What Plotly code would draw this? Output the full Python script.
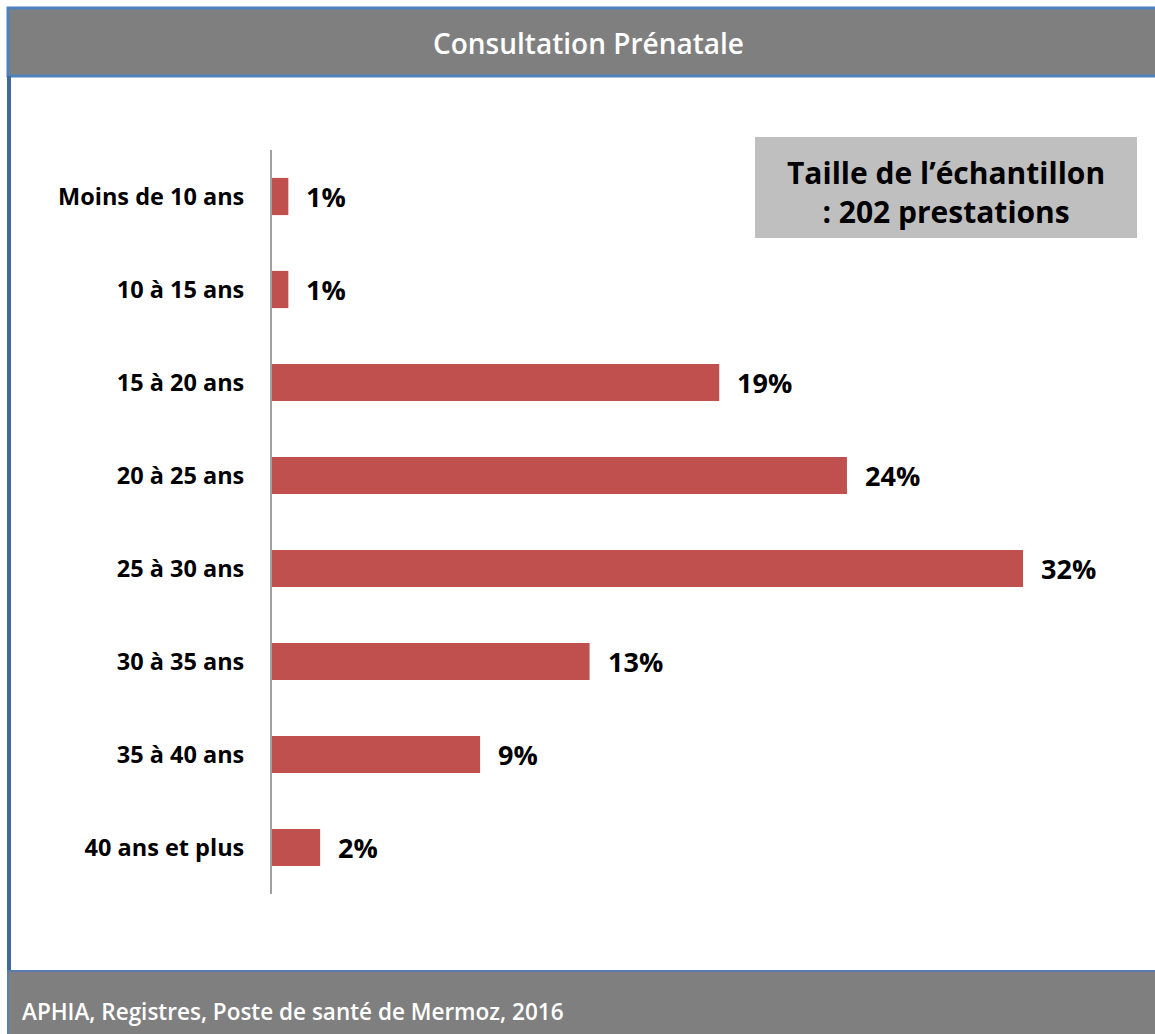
import plotly.graph_objects as go

# ---- data ----
categories = ["Moins de 10 ans", "10 à 15 ans", "15 à 20 ans", "20 à 25 ans",
              "25 à 30 ans", "30 à 35 ans", "35 à 40 ans", "40 ans et plus"]
values = [0.69, 0.69, 18.87, 24.26, 31.69, 13.4, 8.78, 2.03]
title_text = "Consultation Prénatale"
box_text = "Taille de l’échantillon<br>: 202 prestations"
footer_text = "APHIA, Registres, Poste de santé de Mermoz, 2016"

# ---- geometry (pixels) ----
FIG_W, FIG_H = 1155, 1034
PL, PR, PT, PB = 272, 1135, 150, 894
PW, PH = PR - PL, PB - PT
XMAX = PW / 23.7


def px(x):
    return (x - PL) / PW


def py(y):
    return (PB - y) / PH


BAR_COLOR = "#C0504D"
HEAD_GRAY = "#7F7F7F"
BLUE = "#4F81BD"
FONT = "Open Sans"

fig = go.Figure(go.Bar(
    x=values, y=categories, orientation="h",
    marker=dict(color=BAR_COLOR, line=dict(width=0)),
    hoverinfo="skip",
))

annotations = []
for c, v in zip(categories, values):
    annotations.append(dict(
        x=v, y=c, xref="x", yref="y", text=f"{round(v):d}%",
        showarrow=False, xanchor="left", yanchor="middle", xshift=16,
        font=dict(family=FONT, size=27, color="black", weight="bold"),
    ))

# title
annotations.append(dict(
    x=px(588), y=py(43), xref="paper", yref="paper", text=title_text,
    showarrow=False, xanchor="center", yanchor="middle",
    font=dict(family=FONT, size=28, color="white", weight=600),
))
# footer
annotations.append(dict(
    x=px(20), y=py(1011), xref="paper", yref="paper", text=footer_text,
    showarrow=False, xanchor="left", yanchor="middle",
    font=dict(family=FONT, size=22.5, color="white", weight=600),
))
# sample-size box text
annotations.append(dict(
    x=px(946), y=py(192), xref="paper", yref="paper", text=box_text,
    showarrow=False, xanchor="center", yanchor="middle",
    font=dict(family=FONT, size=30, color="black", weight="bold"),
))

shapes = [
    # header band
    dict(type="rect", xref="paper", yref="paper",
         x0=px(8), x1=px(1170), y0=py(8), y1=py(76),
         fillcolor=HEAD_GRAY, line=dict(color=BLUE, width=3), layer="below"),
    # left frame border
    dict(type="line", xref="paper", yref="paper",
         x0=px(9), x1=px(9), y0=py(76), y1=py(1040),
         line=dict(color="#41689A", width=4), layer="below"),
    # footer band
    dict(type="rect", xref="paper", yref="paper",
         x0=px(8), x1=px(1170), y0=py(971), y1=py(1045),
         fillcolor=HEAD_GRAY, line=dict(color="#5B7DB1", width=2), layer="below"),
    # sample-size box
    dict(type="rect", xref="paper", yref="paper",
         x0=px(755), x1=px(1137), y0=py(137), y1=py(238),
         fillcolor="#BFBFBF", line=dict(width=0), layer="below"),
]

fig.update_layout(
    width=FIG_W, height=FIG_H,
    margin=dict(l=PL, r=FIG_W - PR, t=PT, b=FIG_H - PB, pad=0),
    paper_bgcolor="white", plot_bgcolor="white",
    showlegend=False, bargap=0.6,
    annotations=annotations, shapes=shapes,
    xaxis=dict(range=[0, XMAX], showgrid=False, zeroline=False,
               showticklabels=False, showline=False, ticks=""),
    yaxis=dict(autorange="reversed", showgrid=False, zeroline=False,
               showline=True, linecolor="#A0A0A0", linewidth=2,
               ticks="", ticklabelstandoff=21,
               tickfont=dict(family=FONT, size=23.5, color="black", weight="bold")),
)

fig.write_html("out.html", config={"displayModeBar": False},
               post_script="document.body.style.margin='0';document.body.style.overflow='hidden';")
